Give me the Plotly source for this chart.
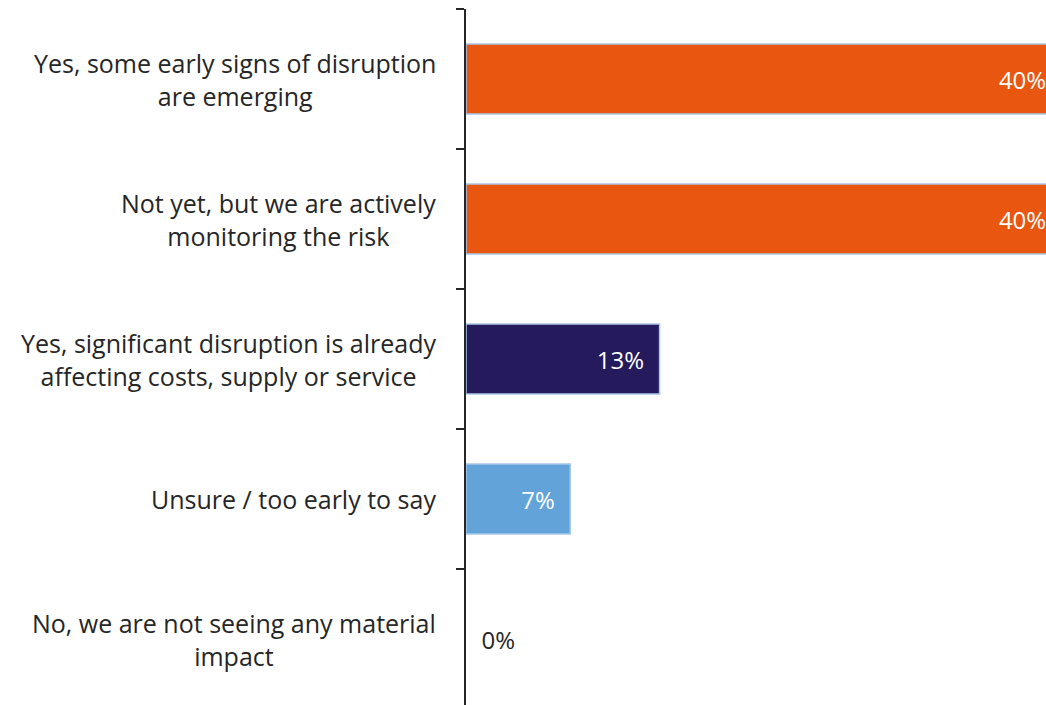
import plotly.graph_objects as go

# Survey responses, top to bottom
categories = [
    "Yes, some early signs of disruption<br>are emerging",
    "Not yet, but we are actively<br>monitoring the risk",
    "Yes, significant disruption is already<br>affecting costs, supply or service",
    "Unsure / too early to say",
    "No, we are not seeing any material<br>impact",
]
values = [40, 40, 13, 7, 0]
colors = ["#E9560F", "#E9560F", "#241A5C", "#62A3DA", "#62A3DA"]

FONT = "Open Sans"
TEXT_COLOR = "#262626"
NBSP = "\u00a0"

idx = list(range(len(categories)))
labels = [f"{v}%{NBSP * 2}" if v > 0 else f"{NBSP * 2}{v}%" for v in values]
positions = ["inside" if v > 0 else "outside" for v in values]
label_colors = ["white" if v > 0 else TEXT_COLOR for v in values]
outline_widths = [1.5 if v > 0 else 0 for v in values]

fig = go.Figure(
    go.Bar(
        x=values,
        y=idx,
        orientation="h",
        width=0.5,
        marker=dict(color=colors, line=dict(color="#A9C8EA", width=outline_widths)),
        text=labels,
        textposition=positions,
        insidetextanchor="end",
        textangle=0,
        textfont=dict(family=FONT, size=24, color=label_colors),
        cliponaxis=True,
        hoverinfo="skip",
    )
)

# Category labels, centred line-by-line to the left of the axis
for i, cat in enumerate(categories):
    fig.add_annotation(
        x=0, xref="paper", y=i, yref="y",
        text=cat, showarrow=False,
        xanchor="right", yanchor="middle", align="center",
        xshift=-28,
        font=dict(family=FONT, size=25, color=TEXT_COLOR),
    )

fig.update_layout(
    width=1046, height=705,
    margin=dict(l=466, r=0, t=9, b=0),
    paper_bgcolor="white", plot_bgcolor="white",
    showlegend=False,
)
fig.update_xaxes(range=[0, 38.95], visible=False, showgrid=False, zeroline=False)
fig.update_yaxes(
    type="linear",
    range=[4.471, -0.5],
    showgrid=False, zeroline=False,
    showline=True, linecolor="#262626", linewidth=2,
    ticks="outside", ticklen=8, tickcolor="#262626", tickwidth=1.5,
    tickmode="array", tickvals=[-0.5, 0.5, 1.5, 2.5, 3.5],
    showticklabels=False,
)

fig.write_html("out.html")
